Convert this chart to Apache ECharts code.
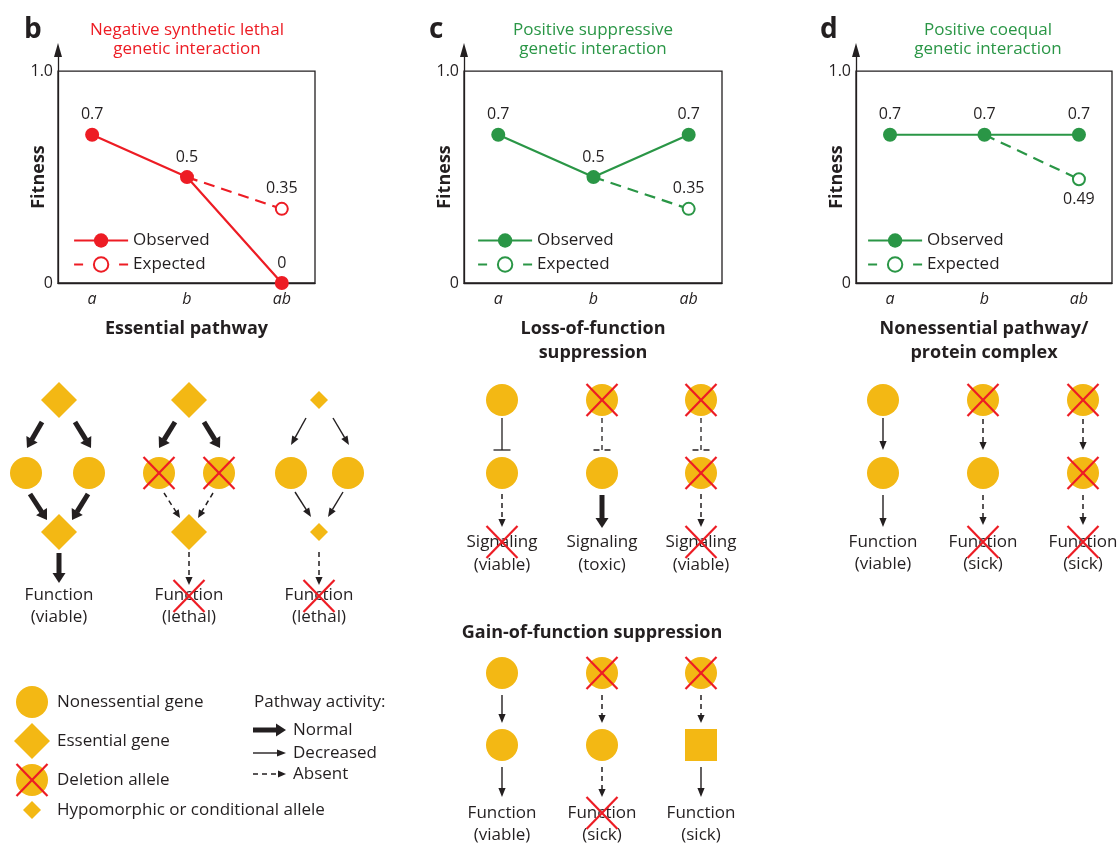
<!DOCTYPE html>
<html>
<head>
<meta charset="utf-8">
<script src="https://cdn.jsdelivr.net/npm/echarts@6/dist/echarts.min.js"></script>
<style>
  html, body { margin: 0; padding: 0; background: #ffffff; }
  #chart { width: 1118px; height: 845px; }
</style>
</head>
<body>
<div id="chart"></div>
<script>
// Genotypes on the x axis and fitness values for each panel
const categories = ['a', 'b', 'ab'];
const observedB = [0.7, 0.5, 0];
const expectedB = [null, 0.5, 0.35];
const observedC = [0.7, 0.5, 0.7];
const expectedC = [null, 0.5, 0.35];
const observedD = [0.7, 0.7, 0.7];
const expectedD = [null, 0.7, 0.49];
const yTickValues = [0, 1];
const yTickLabels = ['0', '1.0'];

const INK = '#231f20';
const GOLD = '#f3b814';
const RED = '#ed1c24';
const GREEN = '#2a9646';
const FONT = '"Open Sans", sans-serif';

const X_MIN = -0.36, X_MAX = 2.35, Y_MAX = 1.1;

const panels = [
  { key: 'b', left: 58, width: 257, color: RED, obs: observedB, exp: expectedB, expPos: 'top',
    letter: 'b', letterX: 24, title: 'Negative synthetic lethal\ngenetic interaction', titleX: 187,
    xName: 'Essential pathway', legendX: 73 },
  { key: 'c', left: 464, width: 258, color: GREEN, obs: observedC, exp: expectedC, expPos: 'top',
    letter: 'c', letterX: 429, title: 'Positive suppressive\ngenetic interaction', titleX: 593,
    xName: 'Loss-of-function\nsuppression', legendX: 477 },
  { key: 'd', left: 856, width: 256, color: GREEN, obs: observedD, exp: expectedD, expPos: 'bottom',
    letter: 'd', letterX: 820, title: 'Positive coequal\ngenetic interaction', titleX: 988,
    xName: 'Nonessential pathway/\nprotein complex', legendX: 867 }
];

function pairs(vals) {
  return vals.map((v, i) => [i, v]).filter(p => p[1] !== null);
}

const grid = [], xAxis = [], yAxis = [], series = [], legend = [], title = [];

panels.forEach((p, i) => {
  grid.push({ left: p.left, width: p.width, top: 50, height: 233, containLabel: false });
  xAxis.push({
    type: 'value', gridIndex: i, min: X_MIN, max: X_MAX,
    axisLine: { show: true, onZero: false, lineStyle: { color: INK, width: 1.3 } },
    axisTick: { show: false }, splitLine: { show: false },
    axisLabel: {
      customValues: [0, 1, 2], formatter: v => categories[v],
      fontStyle: 'italic', fontSize: 16, color: INK, fontFamily: FONT, margin: 8
    },
    name: p.xName, nameLocation: 'middle', nameGap: 34, nameMoveOverlap: false,
    nameTextStyle: { fontSize: 18, fontWeight: 'bold', color: INK, fontFamily: FONT, lineHeight: 24 }
  });
  yAxis.push({
    type: 'value', gridIndex: i, min: 0, max: Y_MAX,
    axisLine: { show: true, onZero: false, symbol: ['none', 'triangle'], symbolSize: [8, 14],
      lineStyle: { color: INK, width: 1.3 } },
    axisTick: { show: false }, splitLine: { show: false },
    axisLabel: {
      customValues: yTickValues, formatter: v => yTickLabels[yTickValues.indexOf(v)],
      fontSize: 16, color: INK, fontFamily: FONT, margin: 5
    },
    name: 'Fitness', nameLocation: 'middle', nameRotate: 90, nameGap: 10, nameMoveOverlap: false,
    nameTextStyle: { fontSize: 18, fontWeight: 'bold', color: INK, fontFamily: FONT, padding: [0, 21, 0, 0] }
  });

  const expData = pairs(p.exp).map((pt, j) => j === 0
    ? { value: pt, symbol: 'none', label: { show: false } }
    : { value: pt, label: { show: true, position: p.expPos } });

  series.push({
    type: 'line', name: 'Expected ' + p.key, xAxisIndex: i, yAxisIndex: i,
    data: expData, symbol: 'emptyCircle', symbolSize: 12,
    lineStyle: { color: p.color, width: 2.2, type: [11, 7] },
    itemStyle: { color: p.color, borderWidth: 2.2 },
    label: { show: false, distance: 5, fontSize: 16, color: INK, fontFamily: FONT,
      formatter: d => String(d.value[1]) },
    silent: true, animation: false
  });
  series.push({
    type: 'line', name: 'Observed ' + p.key, xAxisIndex: i, yAxisIndex: i,
    data: pairs(p.obs), symbol: 'circle', symbolSize: 14,
    lineStyle: { color: p.color, width: 2.2 },
    itemStyle: { color: p.color },
    label: { show: true, position: 'top', distance: 5, fontSize: 16, color: INK, fontFamily: FONT,
      formatter: d => String(d.value[1]) },
    markArea: {
      silent: true, label: { show: false },
      itemStyle: { color: 'rgba(0,0,0,0)', borderColor: INK, borderWidth: 1.3 },
      data: [[{ coord: [X_MIN, 0] }, { coord: [X_MAX, 1] }]]
    },
    silent: true, animation: false
  });

  legend.push({
    orient: 'vertical', left: p.legendX, top: 232, itemWidth: 54, itemHeight: 18, itemGap: 7,
    selectedMode: false, padding: 0,
    data: [
      { name: 'Observed ' + p.key, lineStyle: { width: 2.2 } },
      { name: 'Expected ' + p.key, lineStyle: { width: 2.2, type: [9, 36] } }
    ],
    formatter: n => n.split(' ')[0],
    textStyle: { fontSize: 17, color: INK, fontFamily: FONT }
  });

  title.push({
    text: p.letter, left: p.letterX, top: 16, padding: 0,
    textStyle: { fontSize: 28, fontWeight: 'bold', color: INK, fontFamily: FONT }
  });
  title.push({
    text: p.title, left: p.titleX, top: 21, padding: 0, textAlign: 'center',
    textStyle: { fontSize: 17, fontWeight: 'normal', lineHeight: 19, color: p.color, fontFamily: FONT }
  });
});

// ---- Pathway schematics ----
const els = [];
const ARROWS = {
  thick: { w: 5, head: 10, half: 6.5, dash: null },
  thin: { w: 1.4, head: 9, half: 3.6, dash: null },
  dashed: { w: 1.5, head: 8, half: 3.6, dash: [5, 4] }
};
function circle(x, y, r = 16) {
  els.push({ type: 'circle', shape: { cx: x, cy: y, r }, style: { fill: GOLD }, z: 1 });
}
function diamond(x, y, h = 18) {
  els.push({ type: 'polygon', shape: { points: [[x, y - h], [x + h, y], [x, y + h], [x - h, y]] },
    style: { fill: GOLD }, z: 1 });
}
function square(x, y, h = 16) {
  els.push({ type: 'rect', shape: { x: x - h, y: y - h, width: 2 * h, height: 2 * h }, style: { fill: GOLD }, z: 1 });
}
function cross(x, y, w = 15.5, h = 16) {
  const st = { stroke: RED, lineWidth: 2.2 };
  els.push({ type: 'line', shape: { x1: x - w, y1: y - h, x2: x + w, y2: y + h }, style: st, z: 5 });
  els.push({ type: 'line', shape: { x1: x + w, y1: y - h, x2: x - w, y2: y + h }, style: st, z: 5 });
}
function arrow(x1, y1, x2, y2, kind) {
  const k = ARROWS[kind];
  const dx = x2 - x1, dy = y2 - y1, len = Math.hypot(dx, dy), ux = dx / len, uy = dy / len;
  const bx = x2 - ux * k.head, by = y2 - uy * k.head;
  els.push({ type: 'line', shape: { x1, y1, x2: bx + ux * 0.5, y2: by + uy * 0.5 },
    style: { stroke: INK, lineWidth: k.w, lineDash: k.dash }, z: 2 });
  els.push({ type: 'polygon',
    shape: { points: [[x2, y2], [bx - uy * k.half, by + ux * k.half], [bx + uy * k.half, by - ux * k.half]] },
    style: { fill: INK }, z: 2 });
}
function tbar(x, y1, y2, dashed) {
  els.push({ type: 'line', shape: { x1: x, y1, x2: x, y2 },
    style: { stroke: INK, lineWidth: 1.3, lineDash: dashed ? [5, 4] : null }, z: 2 });
  els.push({ type: 'line', shape: { x1: x - 8.5, y1: y2, x2: x + 8.5, y2 },
    style: { stroke: INK, lineWidth: 1.3, lineDash: dashed ? [6, 5] : null }, z: 2 });
}
function text(x, y, str, align = 'center', weight = 'normal', size = 17) {
  els.push({ type: 'text', x, y, z: 3,
    style: { text: str, font: `${weight} ${size}px ${FONT}`, fill: INK,
      align, verticalAlign: 'middle', textAlign: align, textVerticalAlign: 'middle' } });
}
function outcome(x, y1, y2, word, state) {
  text(x, y1, word);
  text(x, y2, state);
}

// b: essential pathway, intact
diamond(59, 400);
arrow(42, 422, 27, 448, 'thick'); arrow(75, 422, 91, 448, 'thick');
circle(26, 473); circle(89, 473);
arrow(30, 494, 47, 520, 'thick'); arrow(88, 494, 72, 520, 'thick');
diamond(59, 532);
arrow(59, 553, 59, 583, 'thick');
outcome(59, 595, 617, 'Function', '(viable)');
// b: both branches deleted
diamond(189, 400);
arrow(175, 422, 159, 448, 'thick'); arrow(204, 422, 220, 448, 'thick');
circle(159, 473); cross(159, 473); circle(219, 473); cross(219, 473);
arrow(164, 493, 180, 518, 'dashed'); arrow(213, 493, 198, 518, 'dashed');
diamond(189, 532);
arrow(189, 552, 189, 585, 'dashed');
outcome(189, 595, 617, 'Function', '(lethal)'); cross(189, 596);
// b: hypomorphic alleles
diamond(319, 400, 9);
arrow(306, 418, 291, 445, 'thin'); arrow(333, 418, 349, 445, 'thin');
circle(291, 473); circle(348, 473);
arrow(295, 492, 311, 517, 'thin'); arrow(343, 492, 328, 517, 'thin');
diamond(319, 532, 9);
arrow(319, 552, 319, 585, 'dashed');
outcome(319, 595, 617, 'Function', '(lethal)'); cross(319, 596);

// c: loss-of-function suppression
circle(502, 400); tbar(502, 418, 450, false); circle(502, 473);
arrow(502, 494, 502, 527, 'dashed');
outcome(502, 542, 565, 'Signaling', '(viable)'); cross(502, 542);
circle(602, 400); cross(602, 400); tbar(602, 418, 450, true); circle(602, 473);
arrow(602, 495, 602, 528, 'thick');
outcome(602, 542, 565, 'Signaling', '(toxic)');
circle(701, 400); cross(701, 400); tbar(701, 418, 450, true); circle(701, 473); cross(701, 473);
arrow(701, 494, 701, 527, 'dashed');
outcome(701, 542, 565, 'Signaling', '(viable)'); cross(701, 542);

// c: gain-of-function suppression
text(592, 633, 'Gain-of-function suppression', 'center', 'bold', 18);
circle(502, 673); arrow(502, 695, 502, 723, 'thin'); circle(502, 745);
arrow(502, 767, 502, 797, 'thin');
outcome(502, 813, 835, 'Function', '(viable)');
circle(602, 673); cross(602, 673); arrow(602, 695, 602, 723, 'dashed'); circle(602, 745);
arrow(602, 767, 602, 797, 'dashed');
outcome(602, 813, 835, 'Function', '(sick)'); cross(602, 813);
circle(701, 673); cross(701, 673); arrow(701, 695, 701, 723, 'dashed'); square(701, 745);
arrow(701, 767, 701, 797, 'thin');
outcome(701, 813, 835, 'Function', '(sick)');

// d: nonessential pathway / protein complex
circle(883, 400); arrow(883, 418, 883, 450, 'thin'); circle(883, 473);
arrow(883, 495, 883, 527, 'thin');
outcome(883, 542, 564, 'Function', '(viable)');
circle(983, 400); cross(983, 400); arrow(983, 419, 983, 450, 'dashed'); circle(983, 473);
arrow(983, 495, 983, 525, 'dashed');
outcome(983, 542, 564, 'Function', '(sick)'); cross(983, 542);
circle(1083, 400); cross(1083, 400); arrow(1083, 419, 1083, 450, 'dashed'); circle(1083, 473); cross(1083, 473);
arrow(1083, 495, 1083, 525, 'dashed');
outcome(1083, 542, 564, 'Function', '(sick)'); cross(1083, 542);

// Key
circle(32, 702); text(57, 702, 'Nonessential gene', 'left');
diamond(32, 741, 18); text(57, 741, 'Essential gene', 'left');
circle(32, 780); cross(32, 780); text(57, 780, 'Deletion allele', 'left');
diamond(32, 810, 9); text(57, 810, 'Hypomorphic or conditional allele', 'left');
text(254, 702, 'Pathway activity:', 'left');
arrow(253, 730, 286, 730, 'thick'); text(293, 730, 'Normal', 'left');
arrow(253, 753, 286, 753, 'thin'); text(293, 753, 'Decreased', 'left');
arrow(253, 774, 286, 774, 'dashed'); text(293, 774, 'Absent', 'left');

const chart = echarts.init(document.getElementById('chart'), null, { renderer: 'canvas' });
chart.setOption({
  backgroundColor: '#ffffff',
  animation: false,
  textStyle: { fontFamily: FONT },
  title, legend, grid, xAxis, yAxis, series,
  graphic: { elements: els }
});
</script>
</body>
</html>
